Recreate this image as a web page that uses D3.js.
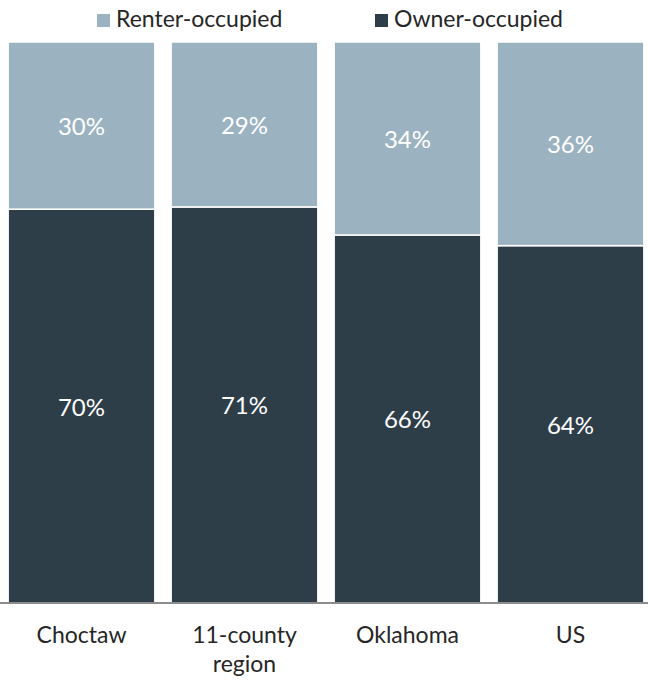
<!DOCTYPE html>
<html>
<head>
<meta charset="utf-8">
<script src="https://cdn.jsdelivr.net/npm/d3@7"></script>
<style>
  body { margin: 0; background: #ffffff; }
  text { font-family: Lato, "Open Sans", sans-serif; }
</style>
</head>
<body>
<div id="chart"></div>
<script>
/* DATA */
const categories = ["Choctaw", "11-county region", "Oklahoma", "US"];
const categoryLines = [["Choctaw"], ["11-county", "region"], ["Oklahoma"], ["US"]];
const ownerShare = [70.2, 70.6, 65.6, 63.7];
const renterShare = [29.8, 29.4, 34.4, 36.3];
const seriesNames = ["Owner-occupied", "Renter-occupied"];

/* CONSTANTS */
const width = 648;
const height = 682;
const margin = { top: 42, right: 0, bottom: 79, left: 0 };
const colors = { "Owner-occupied": "#2e3e49", "Renter-occupied": "#9bb2c0" };

const rows = categories.map((c, i) => ({
  category: c,
  "Owner-occupied": ownerShare[i],
  "Renter-occupied": renterShare[i]
}));

const svg = d3.select("#chart")
  .append("svg")
  .attr("width", width)
  .attr("height", height);

/* SCALES */
const xScale = d3.scaleBand()
  .domain(categories)
  .range([0, 652])
  .paddingInner(0.1)
  .paddingOuter(0.05);

const yScale = d3.scaleLinear()
  .domain([0, 100])
  .range([height - margin.bottom, margin.top]);

const stacked = d3.stack().keys(seriesNames)(rows);

/* BARS */
const layers = svg.selectAll(".layer")
  .data(stacked)
  .join("g")
  .attr("class", "layer")
  .attr("fill", d => colors[d.key]);

layers.selectAll("rect")
  .data(d => d)
  .join("rect")
  .attr("x", d => xScale(d.data.category))
  .attr("y", d => yScale(d[1]))
  .attr("width", xScale.bandwidth())
  .attr("height", d => yScale(d[0]) - yScale(d[1]))
  .attr("stroke", "#ffffff")
  .attr("stroke-width", 1.5);

// value labels
layers.selectAll("text")
  .data(d => d)
  .join("text")
  .attr("x", d => xScale(d.data.category) + xScale.bandwidth() / 2)
  .attr("y", d => (yScale(d[0]) + yScale(d[1])) / 2)
  .attr("text-anchor", "middle")
  .attr("dominant-baseline", "central")
  .attr("fill", "#ffffff")
  .style("font-size", "24px")
  .text(d => Math.round(d[1] - d[0]) + "%");

/* X AXIS */
const xAxis = svg.append("g")
  .attr("transform", `translate(0,${height - margin.bottom})`)
  .call(d3.axisBottom(xScale).tickSize(0).tickFormat(""));
xAxis.select(".domain")
  .attr("d", `M0,0H${width}`)
  .attr("stroke", "#8c8c8c")
  .attr("stroke-width", 2);

svg.append("g")
  .selectAll("text")
  .data(categories)
  .join("text")
  .attr("x", d => xScale(d) + xScale.bandwidth() / 2)
  .attr("y", height - margin.bottom + 40)
  .attr("text-anchor", "middle")
  .attr("fill", "#262626")
  .style("font-size", "23px")
  .selectAll("tspan")
  .data((d, i) => categoryLines[i])
  .join("tspan")
  .attr("x", function() { return this.parentNode.getAttribute("x"); })
  .attr("dy", (d, i) => i === 0 ? 0 : 29)
  .text(d => d);

/* LEGEND */
const legendItems = [
  { name: "Renter-occupied", x: 97 },
  { name: "Owner-occupied", x: 375 }
];
const legend = svg.append("g")
  .selectAll("g")
  .data(legendItems)
  .join("g")
  .attr("transform", d => `translate(${d.x},14)`);

legend.append("rect")
  .attr("width", 13)
  .attr("height", 13)
  .attr("fill", d => colors[d.name]);

legend.append("text")
  .attr("x", 19)
  .attr("y", 13)
  .attr("fill", "#262626")
  .style("font-size", "23px")
  .text(d => d.name);
</script>
</body>
</html>
